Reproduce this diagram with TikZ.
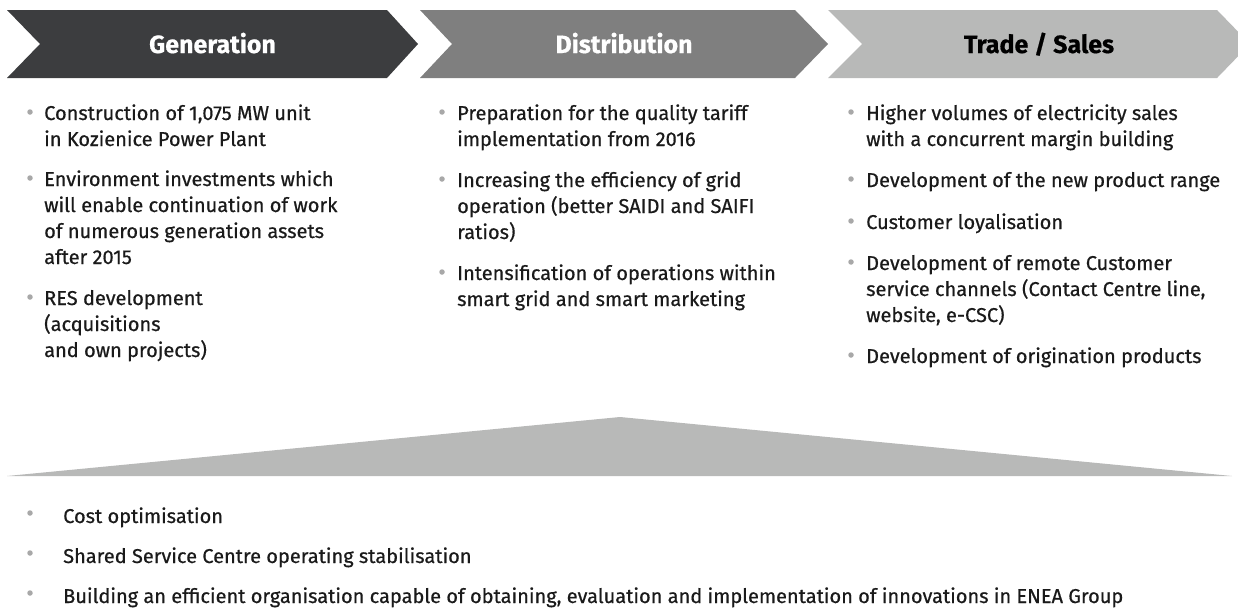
\documentclass[tikz,border=0pt]{standalone}
\usepackage{fontspec}
\setmainfont{Fira Sans}[FakeBold=0.6]
\definecolor{cgen}{HTML}{3C3D3F}
\definecolor{cdist}{HTML}{7F7F7F}
\definecolor{ctrade}{HTML}{B8B9B8}
\definecolor{cbul}{HTML}{A8A8A8}
\definecolor{ctext}{HTML}{1A1A1A}
\tikzset{
  title/.style={anchor=base, inner sep=0pt, font=\fontsize{25}{28}\selectfont\bfseries},
  item/.style={anchor=base west, inner sep=0pt, text=ctext, font=\fontsize{20}{26}\selectfont},
  bul/.style={circle, fill=cbul, inner sep=0pt, minimum size=5.5pt},
}
\newcommand{\itm}[1]{\parbox[t]{390pt}{\raggedright #1}}
\begin{document}
\begin{tikzpicture}[x=1pt,y=-1pt]
\useasboundingbox (0,0) rectangle (1238,608);
\clip (0,0) rectangle (1238,608);
% chevrons
\fill[cgen] (7,10) -- (387,10) -- (418,44) -- (387,78) -- (7,78) -- (40,44) -- cycle;
\fill[cdist] (420,10) -- (795,10) -- (828,44) -- (795,78) -- (420,78) -- (452,44) -- cycle;
\fill[ctrade] (828,10) -- (1217,10) -- (1250,44) -- (1217,78) -- (828,78) -- (862,44) -- cycle;
\node[title, text=white] (tgen) at (212.5,53) {Generation};
\node[title, text=white] (tdist) at (624,53) {Distribution};
\node[title, text=black] (ttrade) at (1039,53) {Trade / Sales};
% Generation column
\node[bul] (bg1) at (30,112) {};
\node[item] (g1) at (44,120) {\itm{Construction of 1,075 MW unit\\in Kozienice Power Plant}};
\node[bul] (bg2) at (30,178) {};
\node[item] (g2) at (44,186) {\itm{Environment investments which\\will enable continuation of work\\of numerous generation assets\\after 2015}};
\node[bul] (bg3) at (30,297) {};
\node[item] (g3) at (44,305) {\itm{RES development\\(acquisitions\\and own projects)}};
% Distribution column
\node[bul] (bd1) at (442,112) {};
\node[item] (d1) at (457,120) {\itm{Preparation for the quality tariff\\implementation from 2016}};
\node[bul] (bd2) at (442,179) {};
\node[item] (d2) at (457,187) {\itm{Increasing the efficiency of grid\\operation (better SAIDI and SAIFI\\ratios)}};
\node[bul] (bd3) at (442,272) {};
\node[item] (d3) at (457,280) {\itm{Intensification of operations within\\smart grid and smart marketing}};
% Trade column
\node[bul] (bt1) at (851,112) {};
\node[item] (s1) at (866,120) {\itm{Higher volumes of electricity sales\\with a concurrent margin building}};
\node[bul] (bt2) at (851,179) {};
\node[item] (s2) at (866,187) {\itm{Development of the new product range}};
\node[bul] (bt3) at (851,221) {};
\node[item] (s3) at (866,229) {\itm{Customer loyalisation}};
\node[bul] (bt4) at (851,262) {};
\node[item] (s4) at (866,270) {\itm{Development of remote Customer\\service channels (Contact Centre line,\\website, e-CSC)}};
\node[bul] (bt5) at (851,355) {};
\node[item] (s5) at (866,363) {\itm{Development of origination products}};
% triangle
\fill[ctrade] (7,476) -- (620,417) -- (1232,476) -- cycle;
% bottom items
\node[bul] (bb1) at (30,513) {};
\node[item] (b1) at (63,523) {Cost optimisation};
\node[bul] (bb2) at (30,553) {};
\node[item] (b2) at (63,563) {Shared Service Centre operating stabilisation};
\node[bul] (bb3) at (30,593) {};
\node[item] (b3) at (63,603) {Building an efficient organisation capable of obtaining, evaluation and implementation of innovations in ENEA Group};
\end{tikzpicture}
\end{document}
